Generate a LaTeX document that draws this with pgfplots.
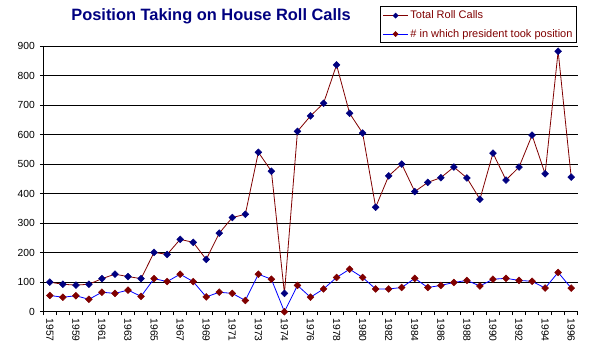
\documentclass[border=0pt]{standalone}
\usepackage{pgfplots}
\pgfplotsset{compat=1.18}
\usepackage{fontspec}
\setmainfont{Liberation Sans}
\definecolor{navy}{RGB}{0,0,128}
\definecolor{xdred}{RGB}{128,0,0}
\definecolor{xblue}{RGB}{0,0,255}
\begin{document}
\begin{tikzpicture}[x=1pt,y=1pt]
\path[use as bounding box] (-43.3,-44.3) rectangle (554.7,311.7);
\begin{axis}[
  at={(0,0)}, anchor=south west,
  scale only axis, width=534.4pt, height=265.7pt,
  xmin=-0.5, xmax=40.5, ymin=0, ymax=900,
  axis x line*=bottom, axis y line*=left,
  axis line style={black, line width=1pt, -},
  tick align=outside, major tick length=3.5pt,
  tick style={black, line width=1pt},
  xtick={-0.5,0.5,...,40.5}, xticklabels={},
  extra x ticks={0,2,...,40},
  extra x tick labels={1957,1959,1961,1963,1965,1967,1969,1971,1973,1974,1976,1978,1980,1982,1984,1986,1988,1990,1992,1994,1996},
  extra x tick style={major tick length=0pt, grid=none,
     tick label style={rotate=-90, anchor=west, xshift=3.5pt}},
  ytick={0,100,...,900},
  ymajorgrids, grid style={black, line width=1pt},
  /pgf/number format/assume math mode=true,
  tick label style={font=\fontsize{10.3}{12}\selectfont, black},
  yticklabel style={xshift=-1.5pt},
  title={\textbf{Position Taking on House Roll Calls}},
  title style={at={(0.314,1)}, anchor=base, yshift=19.3pt, font=\fontsize{16.4}{18}\selectfont, text=navy},
  legend cell align=left,
  legend style={at={(1,1)}, anchor=south east, yshift=2.7pt, xshift=-0.7pt,
     draw=black, line width=1pt, font=\fontsize{11}{13}\selectfont, text=xdred,
     inner xsep=2pt, inner ysep=2pt, row sep=5pt},
  legend image code/.code={\draw[mark repeat=2,mark phase=2,mark size=1.8pt,#1] plot coordinates {(0pt,0pt) (12.5pt,0pt) (25pt,0pt)};},
  clip=false,
]
\addplot[color=xdred, line width=0.8pt, mark=square*, mark size=2.4pt,
  mark options={fill=navy, draw=navy, rotate=45, line width=0.5pt}] coordinates {
(0,100) (1,93) (2,90) (3,93) (4,112) (5,127) (6,119) (7,112) (8,201) (9,194)
(10,245) (11,235) (12,177) (13,266) (14,319) (15,330) (16,540) (17,476) (18,62) (19,611)
(20,663) (21,706) (22,836) (23,672) (24,605) (25,354) (26,460) (27,500) (28,407) (29,438)
(30,454) (31,490) (32,453) (33,381) (34,537) (35,446) (36,490) (37,598) (38,467) (39,882)
(40,456)};
\addlegendentry{Total Roll Calls}
\addplot[color=xblue, line width=0.8pt, mark=square*, mark size=2.4pt,
  mark options={fill=xdred, draw=xdred, rotate=45, line width=0.5pt}] coordinates {
(0,55) (1,49) (2,54) (3,42) (4,66) (5,62) (6,73) (7,52) (8,112) (9,102)
(10,127) (11,102) (12,50) (13,66) (14,62) (15,38) (16,127) (17,110) (18,0) (19,89)
(20,49) (21,77) (22,116) (23,144) (24,116) (25,77) (26,77) (27,82) (28,113) (29,82)
(30,89) (31,99) (32,106) (33,87) (34,110) (35,113) (36,106) (37,103) (38,80) (39,133)
(40,80)};
\addlegendentry{\# in which president took position}
\end{axis}
\end{tikzpicture}
\end{document}
